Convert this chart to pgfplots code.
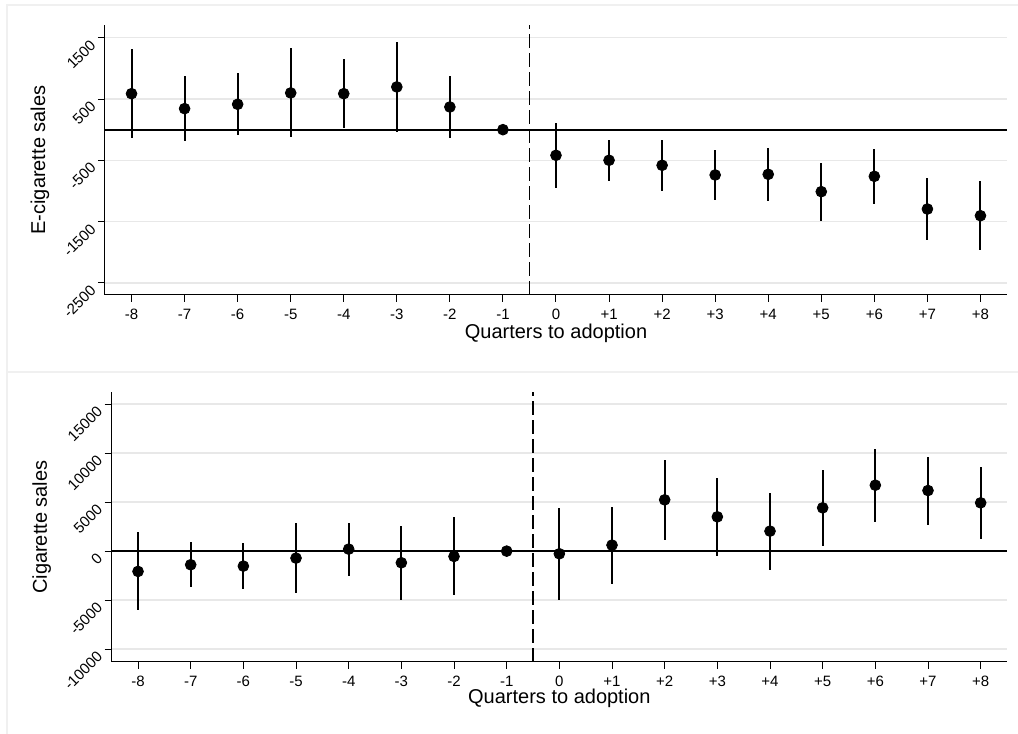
\documentclass[border=0pt]{standalone}
\usepackage{fontspec}
\setmainfont{Liberation Sans}
\usepackage{pgfplots}
\usepackage{pgfplotstable}
\pgfplotsset{compat=1.18}

% event-study estimates: point, lower and upper bound of the CI
\pgfplotstableread{
x y lo hi
-8 587 -135 1311
-7 343 -179 871
-6 414 -91 925
-5 599 -124 1328
-4 587 23 1153
-3 697 -33 1431
-2 370 -130 871
-1 0 0 0
0 -418 -946 104
1 -499 -837 -163
2 -581 -1000 -168
3 -739 -1147 -336
4 -728 -1168 -294
5 -1011 -1484 -543
6 -761 -1217 -315
7 -1294 -1799 -783
8 -1403 -1958 -837
}\ecig

\pgfplotstableread{
x y lo hi
-8 -2075 -6054 1939
-7 -1394 -3673 884
-6 -1530 -3843 816
-5 -714 -4285 2891
-4 204 -2517 2891
-3 -1190 -4965 2585
-2 -544 -4455 3435
-1 0 0 0
0 -272 -4965 4387
1 612 -3401 4557
2 5238 1156 9319
3 3503 -544 7481
4 2041 -1905 5952
5 4421 476 8298
6 6734 2959 10475
7 6190 2619 9625
8 4932 1190 8570
}\cig

\pgfplotsset{
  stata/.style={
    scale only axis,
    axis x line*=bottom, axis y line*=left,
    axis line style={line width=0.5pt},
    xmin=-8.5, xmax=8.5,
    xtick={-8,...,8},
    xticklabels={-8,-7,-6,-5,-4,-3,-2,-1,0,+1,+2,+3,+4,+5,+6,+7,+8},
    scaled y ticks=false,
    tick align=outside, major tick length=3.5pt,
    tick style={black, line width=0.5pt},
    ticklabel style={font=\fontsize{7.5}{9}\selectfont},
    yticklabel style={rotate=45, anchor=east},
    ymajorgrids, grid style={black!9, line width=0.8pt},
    label style={font=\fontsize{11}{13}\selectfont},
    xlabel={Quarters to adoption},
    every axis x label/.style={at={(axis description cs:0.5,0)}, anchor=base},
    every axis y label/.style={at={(axis description cs:0,0.5)}, anchor=center, rotate=90},
    clip=false,
  },
  ci/.style={only marks, mark=*, mark size=2.7pt, black,
    error bars/.cd, y dir=both, y explicit, error mark=none,
    error bar style={line width=1pt, black}},
}

\begin{document}
\begin{tikzpicture}
\useasboundingbox (0,0) rectangle (509pt,367pt);
\draw[black!6, line width=1pt] (509pt,364.25pt) -- (3.25pt,364.25pt) -- (3.25pt,0pt);
\draw[black!6, line width=1pt] (3.25pt,181pt) -- (509pt,181pt);

\begin{axis}[stata, at={(52.5pt,219.5pt)}, anchor=south west,
  width=451pt, height=135pt,
  ymin=-2696, ymax=1707,
  ytick={-2500,-1500,-500,500,1500},
  yticklabels={-2500,-1500,-500,500,1500},
  ylabel={E-cigarette sales},
  xlabel style={yshift=-22pt},
  ylabel style={yshift=32.5pt}]
\addplot[black, line width=0.85pt] coordinates {(-8.5,0) (8.5,0)};
\addplot[black, line width=0.75pt, dash pattern=on 7pt off 2.5pt] coordinates {(-0.5,-2696) (-0.5,1707)};
\addplot[ci] table[x=x, y=y,
  y error plus expr=\thisrow{hi}-\thisrow{y},
  y error minus expr=\thisrow{y}-\thisrow{lo}] {\ecig};
\end{axis}

\begin{axis}[stata, at={(55.85pt,36pt)}, anchor=south west,
  width=447.65pt, height=134.85pt,
  ymin=-11327, ymax=16224,
  ytick={-10000,-5000,0,5000,10000,15000},
  yticklabels={-10000,-5000,0,5000,10000,15000},
  ylabel={Cigarette sales},
  xlabel style={yshift=-21pt},
  ylabel style={yshift=35pt}]
\addplot[black, line width=0.85pt] coordinates {(-8.5,0) (8.5,0)};
\addplot[black, line width=0.75pt, dash pattern=on 7pt off 2.5pt] coordinates {(-0.5,-11327) (-0.5,16224)};
\addplot[ci] table[x=x, y=y,
  y error plus expr=\thisrow{hi}-\thisrow{y},
  y error minus expr=\thisrow{y}-\thisrow{lo}] {\cig};
\end{axis}
\end{tikzpicture}
\end{document}
